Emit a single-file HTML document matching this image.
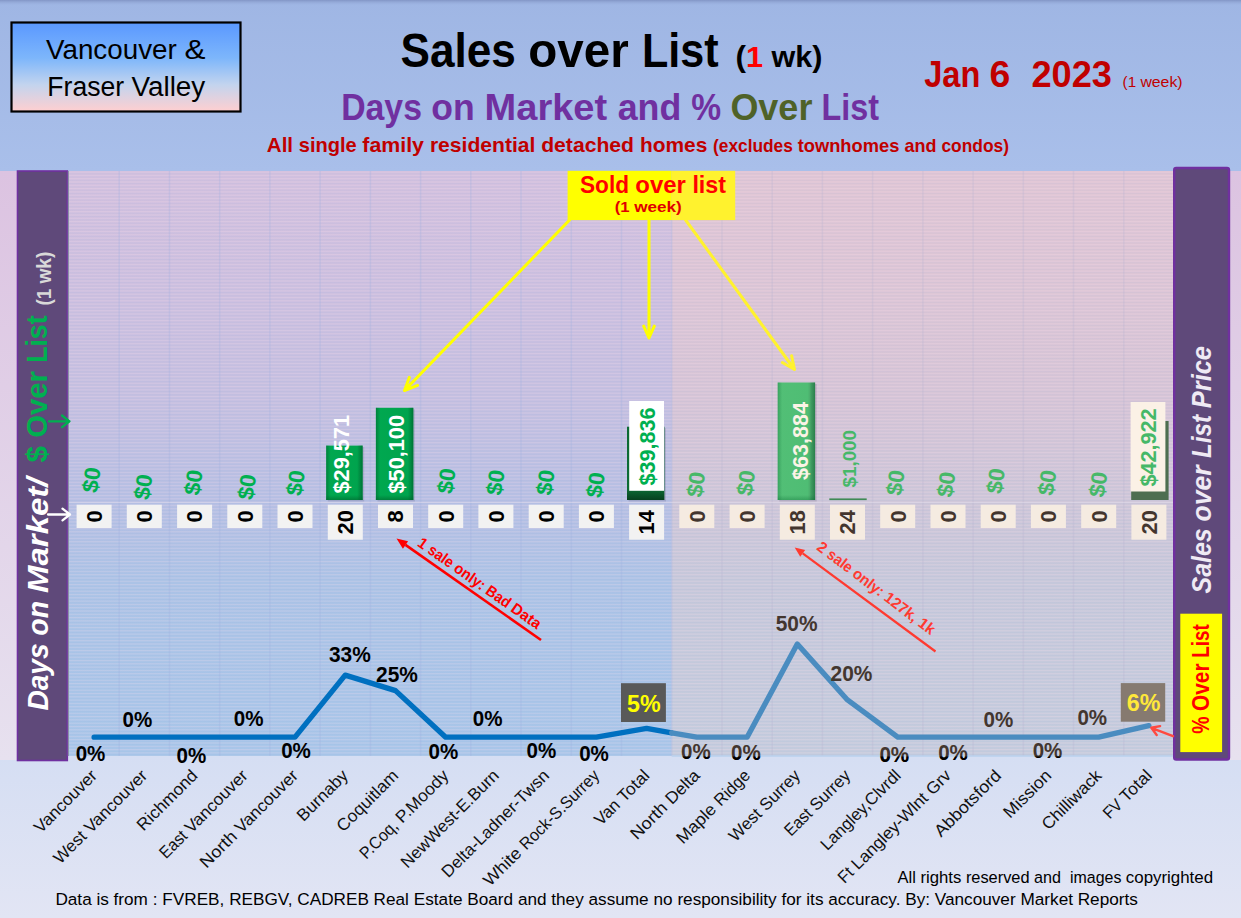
<!DOCTYPE html>
<html lang="en"><head><meta charset="utf-8"><title>Sales over List</title>
<style>html,body{margin:0;padding:0;background:#e2e5f4;overflow:hidden}svg{display:block}text{white-space:pre}</style></head>
<body>
<svg width="1241" height="918" viewBox="0 0 1241 918" font-family="'Liberation Sans', sans-serif">
<defs>
<linearGradient id="gHead" x1="0" y1="0" x2="0" y2="1"><stop offset="0" stop-color="#9fb6e4"/><stop offset="1" stop-color="#a9bfea"/></linearGradient>
<linearGradient id="gFoot" x1="0" y1="0" x2="0" y2="1"><stop offset="0" stop-color="#d5def3"/><stop offset="1" stop-color="#e2e5f4"/></linearGradient>
<linearGradient id="gSide" x1="0" y1="0" x2="0" y2="1"><stop offset="0" stop-color="#dcc3e1"/><stop offset="1" stop-color="#e7e1ef"/></linearGradient>
<linearGradient id="gVan" x1="0" y1="0" x2="0" y2="1"><stop offset="0" stop-color="#d2c0de"/><stop offset="0.22" stop-color="#cbbfdf"/><stop offset="0.39" stop-color="#c4bfe0"/><stop offset="0.56" stop-color="#b6bfe3"/><stop offset="0.70" stop-color="#abc3e6"/><stop offset="1" stop-color="#a8c6e9"/></linearGradient>
<linearGradient id="gFV" x1="0" y1="0" x2="0" y2="1"><stop offset="0" stop-color="#dfc5d4"/><stop offset="0.22" stop-color="#dbc5d5"/><stop offset="0.39" stop-color="#d5c4d6"/><stop offset="0.56" stop-color="#cdc6d8"/><stop offset="0.70" stop-color="#c6c8da"/><stop offset="1" stop-color="#c4ccdd"/></linearGradient>
<linearGradient id="gBox" x1="0" y1="0" x2="0" y2="1"><stop offset="0" stop-color="#5a98ff"/><stop offset="0.4" stop-color="#7db6fb"/><stop offset="0.7" stop-color="#c3d4ee"/><stop offset="1" stop-color="#ffcfd0"/></linearGradient>
<linearGradient id="gBarV" x1="0" y1="0" x2="1" y2="0"><stop offset="0" stop-color="#00a850"/><stop offset="1" stop-color="#00a34d"/></linearGradient>
<linearGradient id="gBarF" x1="0" y1="0" x2="1" y2="0"><stop offset="0" stop-color="#52bf76"/><stop offset="0.8" stop-color="#4fbd74"/><stop offset="0.9" stop-color="#49a468"/><stop offset="1" stop-color="#4a9a64"/></linearGradient>
<linearGradient id="gBarDk" x1="0" y1="0" x2="0" y2="1"><stop offset="0" stop-color="#0b6a33"/><stop offset="0.85" stop-color="#0c6b34"/><stop offset="1" stop-color="#07401f"/></linearGradient>
<linearGradient id="eL" x1="0" y1="0" x2="1" y2="0"><stop offset="0" stop-color="#00602c" stop-opacity="1"/><stop offset="1" stop-color="#00602c" stop-opacity="0"/></linearGradient>
<linearGradient id="eR" x1="0" y1="0" x2="1" y2="0"><stop offset="0" stop-color="#00602c" stop-opacity="0"/><stop offset="1" stop-color="#00602c" stop-opacity="1"/></linearGradient>
<linearGradient id="eB" x1="0" y1="0" x2="0" y2="1"><stop offset="0" stop-color="#00602c" stop-opacity="0"/><stop offset="1" stop-color="#00602c" stop-opacity="1"/></linearGradient>
<linearGradient id="gTop" x1="0" y1="0" x2="0" y2="1"><stop offset="0" stop-color="#7f92c2" stop-opacity="0.9"/><stop offset="1" stop-color="#9fb6e4" stop-opacity="0"/></linearGradient>
<pattern id="hl" width="8" height="3.3" patternUnits="userSpaceOnUse"><rect x="0" y="0" width="8" height="1.1" fill="#ffe0ee" opacity="0.22"/><rect x="0" y="1.6" width="8" height="0.9" fill="#8fa0d8" opacity="0.08"/></pattern>
</defs>
<rect x="0" y="0" width="1241" height="918" fill="url(#gSide)"/>
<rect x="0" y="0" width="1241" height="171" fill="url(#gHead)"/>
<rect x="0" y="0" width="1241" height="6" fill="url(#gTop)"/>
<rect x="0" y="756" width="1241" height="162" fill="url(#gFoot)"/>
<rect x="0" y="171" width="17.5" height="589" fill="url(#gSide)"/>
<rect x="1230" y="171" width="11" height="589" fill="url(#gSide)"/>
<rect x="69.0" y="171.0" width="602.7" height="585.0" fill="url(#gVan)"/>
<rect x="671.7" y="171.0" width="502.3" height="585.0" fill="url(#gFV)"/>
<rect x="69.0" y="171.0" width="1105.0" height="585.0" fill="url(#hl)"/>
<line x1="119.2" y1="171.0" x2="119.2" y2="756.0" stroke="#9fb0e0" stroke-width="1.5" opacity="0.28"/>
<line x1="169.5" y1="171.0" x2="169.5" y2="756.0" stroke="#9fb0e0" stroke-width="1.5" opacity="0.28"/>
<line x1="219.7" y1="171.0" x2="219.7" y2="756.0" stroke="#9fb0e0" stroke-width="1.5" opacity="0.28"/>
<line x1="269.9" y1="171.0" x2="269.9" y2="756.0" stroke="#9fb0e0" stroke-width="1.5" opacity="0.28"/>
<line x1="320.1" y1="171.0" x2="320.1" y2="756.0" stroke="#9fb0e0" stroke-width="1.5" opacity="0.28"/>
<line x1="370.4" y1="171.0" x2="370.4" y2="756.0" stroke="#9fb0e0" stroke-width="1.5" opacity="0.28"/>
<line x1="420.6" y1="171.0" x2="420.6" y2="756.0" stroke="#9fb0e0" stroke-width="1.5" opacity="0.28"/>
<line x1="470.8" y1="171.0" x2="470.8" y2="756.0" stroke="#9fb0e0" stroke-width="1.5" opacity="0.28"/>
<line x1="521.0" y1="171.0" x2="521.0" y2="756.0" stroke="#9fb0e0" stroke-width="1.5" opacity="0.28"/>
<line x1="571.3" y1="171.0" x2="571.3" y2="756.0" stroke="#9fb0e0" stroke-width="1.5" opacity="0.28"/>
<line x1="621.5" y1="171.0" x2="621.5" y2="756.0" stroke="#9fb0e0" stroke-width="1.5" opacity="0.28"/>
<line x1="671.7" y1="171.0" x2="671.7" y2="756.0" stroke="#9fb0e0" stroke-width="1.5" opacity="0.28"/>
<line x1="722.0" y1="171.0" x2="722.0" y2="756.0" stroke="#b9b4d2" stroke-width="1.5" opacity="0.28"/>
<line x1="772.2" y1="171.0" x2="772.2" y2="756.0" stroke="#b9b4d2" stroke-width="1.5" opacity="0.28"/>
<line x1="822.4" y1="171.0" x2="822.4" y2="756.0" stroke="#b9b4d2" stroke-width="1.5" opacity="0.28"/>
<line x1="872.6" y1="171.0" x2="872.6" y2="756.0" stroke="#b9b4d2" stroke-width="1.5" opacity="0.28"/>
<line x1="922.9" y1="171.0" x2="922.9" y2="756.0" stroke="#b9b4d2" stroke-width="1.5" opacity="0.28"/>
<line x1="973.1" y1="171.0" x2="973.1" y2="756.0" stroke="#b9b4d2" stroke-width="1.5" opacity="0.28"/>
<line x1="1023.3" y1="171.0" x2="1023.3" y2="756.0" stroke="#b9b4d2" stroke-width="1.5" opacity="0.28"/>
<line x1="1073.5" y1="171.0" x2="1073.5" y2="756.0" stroke="#b9b4d2" stroke-width="1.5" opacity="0.28"/>
<line x1="1123.8" y1="171.0" x2="1123.8" y2="756.0" stroke="#b9b4d2" stroke-width="1.5" opacity="0.28"/>
<line x1="69.0" y1="502.5" x2="1174.0" y2="502.5" stroke="#e4e0ee" stroke-width="1.2" opacity="0.45"/>
<line x1="671.7" y1="756" x2="1174.0" y2="756" stroke="#b9d0ee" stroke-width="1.5"/>
<rect x="17.5" y="171" width="49.8" height="589.5" fill="#5f497a"/>
<rect x="17.5" y="171" width="49.8" height="589.5" fill="none" stroke="#7030a0" stroke-width="1.6"/>
<line x1="68.4" y1="171" x2="68.4" y2="756" stroke="#8c93a8" stroke-width="1.2"/>
<rect x="1174.2" y="168" width="54.8" height="591.5" rx="2" fill="#5f497a" stroke="#7030a0" stroke-width="2.4"/>
<rect x="1180.3" y="613.7" width="41.8" height="138.4" fill="#ffff00"/>
<text y="0.0" font-size="30.26" fill="#ffffff" font-weight="700" font-style="italic" transform="translate(48.0 710.5) rotate(-90)"><tspan x="0.0" textLength="74.8" lengthAdjust="spacingAndGlyphs">Days </tspan><tspan x="74.8" textLength="42.6" lengthAdjust="spacingAndGlyphs">on </tspan><tspan x="117.5" textLength="115.5" lengthAdjust="spacingAndGlyphs">Market/</tspan></text>
<text y="0.0" font-size="30.26" fill="#00b050" font-weight="700" transform="translate(47.0 462.5) rotate(-90)"><tspan x="0.0" textLength="24.7" lengthAdjust="spacingAndGlyphs">$ </tspan><tspan x="24.7" textLength="75.0" lengthAdjust="spacingAndGlyphs">Over </tspan><tspan x="99.7" textLength="47.3" lengthAdjust="spacingAndGlyphs">List</tspan></text>
<text y="0.0" font-size="20.02" fill="#d9d9d9" font-weight="700" transform="translate(51.0 305.5) rotate(-90)"><tspan x="0.0" textLength="21.9" lengthAdjust="spacingAndGlyphs">(1 </tspan><tspan x="21.9" textLength="32.1" lengthAdjust="spacingAndGlyphs">wk)</tspan></text>
<text y="0.0" font-size="27.32" fill="#efeaf4" font-weight="700" font-style="italic" transform="translate(1211.0 593.5) rotate(-90)"><tspan x="0.0" textLength="72.1" lengthAdjust="spacingAndGlyphs">Sales </tspan><tspan x="72.1" textLength="63.3" lengthAdjust="spacingAndGlyphs">over </tspan><tspan x="135.5" textLength="49.8" lengthAdjust="spacingAndGlyphs">List </tspan><tspan x="185.3" textLength="62.2" lengthAdjust="spacingAndGlyphs">Price</tspan></text>
<text y="0.0" font-size="23.14" fill="#ff0000" font-weight="700" transform="translate(1209.0 733.7) rotate(-90)"><tspan x="0.0" textLength="22.8" lengthAdjust="spacingAndGlyphs">% </tspan><tspan x="22.8" textLength="53.2" lengthAdjust="spacingAndGlyphs">Over </tspan><tspan x="76.0" textLength="33.5" lengthAdjust="spacingAndGlyphs">List</tspan></text>
<path d="M49.0 421.3L69.5 421.3M62.0 427.1L69.5 421.3L62.0 415.5" fill="none" stroke="#00b050" stroke-width="2.3" stroke-linecap="round" stroke-linejoin="round"/>
<path d="M48.0 514.5L70.0 514.5M62.5 520.3L70.0 514.5L62.5 508.7" fill="none" stroke="#ffffff" stroke-width="2.3" stroke-linecap="round" stroke-linejoin="round"/>
<rect x="327.8" y="447.1" width="36.4" height="54.4" fill="#3c3050" opacity="0.16"/>
<rect x="326.2" y="445.6" width="36.4" height="54.4" fill="url(#gBarV)"/>
<rect x="326.2" y="445.6" width="4.5" height="54.4" fill="url(#eL)" opacity="0.55"/>
<rect x="357.1" y="445.6" width="5.5" height="54.4" fill="url(#eR)" opacity="0.7000000000000001"/>
<rect x="326.2" y="495.0" width="36.4" height="5" fill="url(#eB)" opacity="0.55"/>
<rect x="377.5" y="409.3" width="37.4" height="92.2" fill="#3c3050" opacity="0.16"/>
<rect x="375.9" y="407.8" width="37.4" height="92.2" fill="url(#gBarV)"/>
<rect x="375.9" y="407.8" width="4.5" height="92.2" fill="url(#eL)" opacity="0.55"/>
<rect x="407.8" y="407.8" width="5.5" height="92.2" fill="url(#eR)" opacity="0.7000000000000001"/>
<rect x="375.9" y="495.0" width="37.4" height="5" fill="url(#eB)" opacity="0.55"/>
<rect x="628.6" y="428.2" width="37.4" height="73.3" fill="#3c3050" opacity="0.16"/>
<rect x="627.0" y="426.7" width="37.4" height="73.3" fill="url(#gBarDk)"/>
<rect x="779.3" y="384.0" width="37.4" height="117.5" fill="#3c3050" opacity="0.16"/>
<rect x="777.7" y="382.5" width="37.4" height="117.5" fill="url(#gBarF)"/>
<rect x="777.7" y="382.5" width="4.5" height="117.5" fill="url(#eL)" opacity="0.3"/>
<rect x="809.6" y="382.5" width="5.5" height="117.5" fill="url(#eR)" opacity="0.44999999999999996"/>
<rect x="777.7" y="495.0" width="37.4" height="5" fill="url(#eB)" opacity="0.3"/>
<rect x="829.3" y="498.4" width="37.4" height="1.7" fill="#3f8a55"/>
<rect x="1131.2" y="421.0" width="37.4" height="79.0" fill="#4e6e50"/>
<rect x="629.2" y="401" width="34.8" height="89.8" fill="#ffffff"/>
<rect x="1130.6" y="402" width="34.8" height="89.5" fill="#fbf1e6"/>
<text x="0.0" y="0.0" font-size="21.89" fill="#ffffff" font-weight="700" textLength="78.5" lengthAdjust="spacingAndGlyphs" transform="translate(349.4 493.5) rotate(-90)">$29,571</text>
<text x="0.0" y="0.0" font-size="21.89" fill="#ffffff" font-weight="700" textLength="78.5" lengthAdjust="spacingAndGlyphs" transform="translate(403.6 493.5) rotate(-90)">$50,100</text>
<text x="0.0" y="0.0" font-size="21.36" fill="#00b050" font-weight="700" textLength="78.0" lengthAdjust="spacingAndGlyphs" transform="translate(654.5 485.5) rotate(-90)">$39,836</text>
<text x="0.0" y="0.0" font-size="21.36" fill="#fbf3e6" font-weight="700" textLength="78.0" lengthAdjust="spacingAndGlyphs" transform="translate(807.5 480.0) rotate(-90)">$63,884</text>
<text x="0.0" y="0.0" font-size="18.07" fill="#46b868" font-weight="700" textLength="57.5" lengthAdjust="spacingAndGlyphs" transform="translate(855.6 487.5) rotate(-90)">$1,000</text>
<text x="0.0" y="0.0" font-size="21.36" fill="#46b868" font-weight="700" textLength="78.0" lengthAdjust="spacingAndGlyphs" transform="translate(1156.0 486.5) rotate(-90)">$42,922</text>
<g transform="translate(91.5 480.0) rotate(-82)">
<text x="-12.7" y="7.6" font-size="22.25" fill="#00b050" font-weight="700" textLength="25.3" lengthAdjust="spacingAndGlyphs">$0</text>
</g>
<g transform="translate(143.3 487.0) rotate(-82)">
<text x="-12.7" y="7.6" font-size="22.25" fill="#00b050" font-weight="700" textLength="25.3" lengthAdjust="spacingAndGlyphs">$0</text>
</g>
<g transform="translate(193.4 482.5) rotate(-82)">
<text x="-12.7" y="7.6" font-size="22.25" fill="#00b050" font-weight="700" textLength="25.3" lengthAdjust="spacingAndGlyphs">$0</text>
</g>
<g transform="translate(247.0 487.0) rotate(-82)">
<text x="-12.7" y="7.6" font-size="22.25" fill="#00b050" font-weight="700" textLength="25.3" lengthAdjust="spacingAndGlyphs">$0</text>
</g>
<g transform="translate(295.6 483.0) rotate(-82)">
<text x="-12.7" y="7.6" font-size="22.25" fill="#00b050" font-weight="700" textLength="25.3" lengthAdjust="spacingAndGlyphs">$0</text>
</g>
<g transform="translate(446.4 481.0) rotate(-82)">
<text x="-12.7" y="7.6" font-size="22.25" fill="#00b050" font-weight="700" textLength="25.3" lengthAdjust="spacingAndGlyphs">$0</text>
</g>
<g transform="translate(495.4 482.5) rotate(-82)">
<text x="-12.7" y="7.6" font-size="22.25" fill="#00b050" font-weight="700" textLength="25.3" lengthAdjust="spacingAndGlyphs">$0</text>
</g>
<g transform="translate(545.5 482.5) rotate(-82)">
<text x="-12.7" y="7.6" font-size="22.25" fill="#00b050" font-weight="700" textLength="25.3" lengthAdjust="spacingAndGlyphs">$0</text>
</g>
<g transform="translate(595.6 485.0) rotate(-82)">
<text x="-12.7" y="7.6" font-size="22.25" fill="#00b050" font-weight="700" textLength="25.3" lengthAdjust="spacingAndGlyphs">$0</text>
</g>
<g transform="translate(696.0 484.5) rotate(-82)">
<text x="-12.7" y="7.6" font-size="22.25" fill="#46b868" font-weight="700" textLength="25.3" lengthAdjust="spacingAndGlyphs">$0</text>
</g>
<g transform="translate(746.0 483.0) rotate(-82)">
<text x="-12.7" y="7.6" font-size="22.25" fill="#46b868" font-weight="700" textLength="25.3" lengthAdjust="spacingAndGlyphs">$0</text>
</g>
<g transform="translate(895.5 482.7) rotate(-82)">
<text x="-12.7" y="7.6" font-size="22.25" fill="#46b868" font-weight="700" textLength="25.3" lengthAdjust="spacingAndGlyphs">$0</text>
</g>
<g transform="translate(946.2 484.3) rotate(-82)">
<text x="-12.7" y="7.6" font-size="22.25" fill="#46b868" font-weight="700" textLength="25.3" lengthAdjust="spacingAndGlyphs">$0</text>
</g>
<g transform="translate(995.8 480.8) rotate(-82)">
<text x="-12.7" y="7.6" font-size="22.25" fill="#46b868" font-weight="700" textLength="25.3" lengthAdjust="spacingAndGlyphs">$0</text>
</g>
<g transform="translate(1047.3 482.7) rotate(-82)">
<text x="-12.7" y="7.6" font-size="22.25" fill="#46b868" font-weight="700" textLength="25.3" lengthAdjust="spacingAndGlyphs">$0</text>
</g>
<g transform="translate(1098.2 484.3) rotate(-82)">
<text x="-12.7" y="7.6" font-size="22.25" fill="#46b868" font-weight="700" textLength="25.3" lengthAdjust="spacingAndGlyphs">$0</text>
</g>
<rect x="76.6" y="504.7" width="35" height="23.3" fill="#f2f2f2"/>
<text x="0.0" y="0.0" font-size="21.36" fill="#000000" font-weight="700" textLength="12.2" lengthAdjust="spacingAndGlyphs" transform="translate(101.9 522.4) rotate(-90)">0</text>
<rect x="126.8" y="504.7" width="35" height="23.3" fill="#f2f2f2"/>
<text x="0.0" y="0.0" font-size="21.36" fill="#000000" font-weight="700" textLength="12.2" lengthAdjust="spacingAndGlyphs" transform="translate(152.1 522.4) rotate(-90)">0</text>
<rect x="177.1" y="504.7" width="35" height="23.3" fill="#f2f2f2"/>
<text x="0.0" y="0.0" font-size="21.36" fill="#000000" font-weight="700" textLength="12.2" lengthAdjust="spacingAndGlyphs" transform="translate(202.4 522.4) rotate(-90)">0</text>
<rect x="227.3" y="504.7" width="35" height="23.3" fill="#f2f2f2"/>
<text x="0.0" y="0.0" font-size="21.36" fill="#000000" font-weight="700" textLength="12.2" lengthAdjust="spacingAndGlyphs" transform="translate(252.6 522.4) rotate(-90)">0</text>
<rect x="277.5" y="504.7" width="35" height="23.3" fill="#f2f2f2"/>
<text x="0.0" y="0.0" font-size="21.36" fill="#000000" font-weight="700" textLength="12.2" lengthAdjust="spacingAndGlyphs" transform="translate(302.8 522.4) rotate(-90)">0</text>
<rect x="327.8" y="504.7" width="35" height="35" fill="#f2f2f2"/>
<text x="0.0" y="0.0" font-size="21.36" fill="#000000" font-weight="700" textLength="24.3" lengthAdjust="spacingAndGlyphs" transform="translate(353.1 534.4) rotate(-90)">20</text>
<rect x="378.0" y="504.7" width="35" height="23.3" fill="#f2f2f2"/>
<text x="0.0" y="0.0" font-size="21.36" fill="#000000" font-weight="700" textLength="12.2" lengthAdjust="spacingAndGlyphs" transform="translate(403.3 522.4) rotate(-90)">8</text>
<rect x="428.2" y="504.7" width="35" height="23.3" fill="#f2f2f2"/>
<text x="0.0" y="0.0" font-size="21.36" fill="#000000" font-weight="700" textLength="12.2" lengthAdjust="spacingAndGlyphs" transform="translate(453.5 522.4) rotate(-90)">0</text>
<rect x="478.4" y="504.7" width="35" height="23.3" fill="#f2f2f2"/>
<text x="0.0" y="0.0" font-size="21.36" fill="#000000" font-weight="700" textLength="12.2" lengthAdjust="spacingAndGlyphs" transform="translate(503.7 522.4) rotate(-90)">0</text>
<rect x="528.7" y="504.7" width="35" height="23.3" fill="#f2f2f2"/>
<text x="0.0" y="0.0" font-size="21.36" fill="#000000" font-weight="700" textLength="12.2" lengthAdjust="spacingAndGlyphs" transform="translate(554.0 522.4) rotate(-90)">0</text>
<rect x="578.9" y="504.7" width="35" height="23.3" fill="#f2f2f2"/>
<text x="0.0" y="0.0" font-size="21.36" fill="#000000" font-weight="700" textLength="12.2" lengthAdjust="spacingAndGlyphs" transform="translate(604.2 522.4) rotate(-90)">0</text>
<rect x="629.1" y="504.7" width="35" height="35" fill="#f2f2f2"/>
<text x="0.0" y="0.0" font-size="21.36" fill="#000000" font-weight="700" textLength="24.3" lengthAdjust="spacingAndGlyphs" transform="translate(654.4 534.4) rotate(-90)">14</text>
<rect x="679.3" y="504.7" width="35" height="23.3" fill="#f5ebe1"/>
<text x="0.0" y="0.0" font-size="21.36" fill="#43352e" font-weight="700" textLength="12.2" lengthAdjust="spacingAndGlyphs" transform="translate(704.6 522.4) rotate(-90)">0</text>
<rect x="729.6" y="504.7" width="35" height="23.3" fill="#f5ebe1"/>
<text x="0.0" y="0.0" font-size="21.36" fill="#43352e" font-weight="700" textLength="12.2" lengthAdjust="spacingAndGlyphs" transform="translate(754.9 522.4) rotate(-90)">0</text>
<rect x="779.8" y="504.7" width="35" height="35" fill="#f5ebe1"/>
<text x="0.0" y="0.0" font-size="21.36" fill="#43352e" font-weight="700" textLength="24.3" lengthAdjust="spacingAndGlyphs" transform="translate(805.1 534.4) rotate(-90)">18</text>
<rect x="830.0" y="504.7" width="35" height="35" fill="#f5ebe1"/>
<text x="0.0" y="0.0" font-size="21.36" fill="#43352e" font-weight="700" textLength="24.3" lengthAdjust="spacingAndGlyphs" transform="translate(855.3 534.4) rotate(-90)">24</text>
<rect x="880.2" y="504.7" width="35" height="23.3" fill="#f5ebe1"/>
<text x="0.0" y="0.0" font-size="21.36" fill="#43352e" font-weight="700" textLength="12.2" lengthAdjust="spacingAndGlyphs" transform="translate(905.5 522.4) rotate(-90)">0</text>
<rect x="930.5" y="504.7" width="35" height="23.3" fill="#f5ebe1"/>
<text x="0.0" y="0.0" font-size="21.36" fill="#43352e" font-weight="700" textLength="12.2" lengthAdjust="spacingAndGlyphs" transform="translate(955.8 522.4) rotate(-90)">0</text>
<rect x="980.7" y="504.7" width="35" height="23.3" fill="#f5ebe1"/>
<text x="0.0" y="0.0" font-size="21.36" fill="#43352e" font-weight="700" textLength="12.2" lengthAdjust="spacingAndGlyphs" transform="translate(1006.0 522.4) rotate(-90)">0</text>
<rect x="1030.9" y="504.7" width="35" height="23.3" fill="#f5ebe1"/>
<text x="0.0" y="0.0" font-size="21.36" fill="#43352e" font-weight="700" textLength="12.2" lengthAdjust="spacingAndGlyphs" transform="translate(1056.2 522.4) rotate(-90)">0</text>
<rect x="1081.2" y="504.7" width="35" height="23.3" fill="#f5ebe1"/>
<text x="0.0" y="0.0" font-size="21.36" fill="#43352e" font-weight="700" textLength="12.2" lengthAdjust="spacingAndGlyphs" transform="translate(1106.5 522.4) rotate(-90)">0</text>
<rect x="1131.4" y="504.7" width="35" height="35" fill="#f5ebe1"/>
<text x="0.0" y="0.0" font-size="21.36" fill="#43352e" font-weight="700" textLength="24.3" lengthAdjust="spacingAndGlyphs" transform="translate(1156.7 534.4) rotate(-90)">20</text>
<polyline points="94.1,737.2 144.3,737.2 194.6,737.2 244.8,737.2 295.0,737.2 345.2,675.1 395.5,690.6 445.7,737.2 495.9,737.2 546.2,737.2 596.4,737.2 646.6,728.4 671.7,732.8" fill="none" stroke="#0070c0" stroke-width="5.3" stroke-linejoin="round" stroke-linecap="round"/>
<polyline points="671.7,732.8 696.8,737.2 747.1,737.2 797.3,644.1 847.5,699.9 897.8,737.2 948.0,737.2 998.2,737.2 1048.4,737.2 1098.7,737.2 1148.9,725.6" fill="none" stroke="#4a8cc0" stroke-width="5.3" stroke-linejoin="round" stroke-linecap="round"/>
<text x="75.7" y="760.5" font-size="21.36" fill="#000000" font-weight="700" textLength="29.7" lengthAdjust="spacingAndGlyphs">0%</text>
<text x="122.6" y="727.2" font-size="21.36" fill="#000000" font-weight="700" textLength="29.7" lengthAdjust="spacingAndGlyphs">0%</text>
<text x="176.5" y="763.4" font-size="21.36" fill="#000000" font-weight="700" textLength="29.7" lengthAdjust="spacingAndGlyphs">0%</text>
<text x="233.8" y="726.2" font-size="21.36" fill="#000000" font-weight="700" textLength="29.7" lengthAdjust="spacingAndGlyphs">0%</text>
<text x="281.2" y="758.1" font-size="21.36" fill="#000000" font-weight="700" textLength="29.7" lengthAdjust="spacingAndGlyphs">0%</text>
<text x="329.0" y="662.3" font-size="21.36" fill="#000000" font-weight="700" textLength="41.8" lengthAdjust="spacingAndGlyphs">33%</text>
<text x="376.1" y="681.5" font-size="21.36" fill="#000000" font-weight="700" textLength="41.8" lengthAdjust="spacingAndGlyphs">25%</text>
<text x="428.6" y="759.3" font-size="21.36" fill="#000000" font-weight="700" textLength="29.7" lengthAdjust="spacingAndGlyphs">0%</text>
<text x="472.8" y="725.5" font-size="21.36" fill="#000000" font-weight="700" textLength="29.7" lengthAdjust="spacingAndGlyphs">0%</text>
<text x="526.5" y="758.1" font-size="21.36" fill="#000000" font-weight="700" textLength="29.7" lengthAdjust="spacingAndGlyphs">0%</text>
<text x="579.2" y="761.3" font-size="21.36" fill="#000000" font-weight="700" textLength="29.7" lengthAdjust="spacingAndGlyphs">0%</text>
<text x="681.1" y="759.0" font-size="21.36" fill="#43362f" font-weight="700" textLength="29.7" lengthAdjust="spacingAndGlyphs">0%</text>
<text x="731.0" y="760.0" font-size="21.36" fill="#43362f" font-weight="700" textLength="29.7" lengthAdjust="spacingAndGlyphs">0%</text>
<text x="775.7" y="631.4" font-size="21.36" fill="#43362f" font-weight="700" textLength="41.8" lengthAdjust="spacingAndGlyphs">50%</text>
<text x="830.6" y="681.0" font-size="21.36" fill="#43362f" font-weight="700" textLength="41.8" lengthAdjust="spacingAndGlyphs">20%</text>
<text x="879.4" y="762.0" font-size="21.36" fill="#43362f" font-weight="700" textLength="29.7" lengthAdjust="spacingAndGlyphs">0%</text>
<text x="938.2" y="760.0" font-size="21.36" fill="#43362f" font-weight="700" textLength="29.7" lengthAdjust="spacingAndGlyphs">0%</text>
<text x="983.6" y="727.0" font-size="21.36" fill="#43362f" font-weight="700" textLength="29.7" lengthAdjust="spacingAndGlyphs">0%</text>
<text x="1032.7" y="758.3" font-size="21.36" fill="#43362f" font-weight="700" textLength="29.7" lengthAdjust="spacingAndGlyphs">0%</text>
<text x="1077.4" y="724.9" font-size="21.36" fill="#43362f" font-weight="700" textLength="29.7" lengthAdjust="spacingAndGlyphs">0%</text>
<clipPath id="below"><rect x="671.7272727272727" y="756.6" width="600" height="20"/></clipPath>
<g clip-path="url(#below)">
<text x="681.1" y="759.0" font-size="21.36" fill="#000" font-weight="700" textLength="29.7" lengthAdjust="spacingAndGlyphs">0%</text>
<text x="731.0" y="760.0" font-size="21.36" fill="#000" font-weight="700" textLength="29.7" lengthAdjust="spacingAndGlyphs">0%</text>
<text x="879.4" y="762.0" font-size="21.36" fill="#000" font-weight="700" textLength="29.7" lengthAdjust="spacingAndGlyphs">0%</text>
<text x="938.2" y="760.0" font-size="21.36" fill="#000" font-weight="700" textLength="29.7" lengthAdjust="spacingAndGlyphs">0%</text>
<text x="1032.7" y="758.3" font-size="21.36" fill="#000" font-weight="700" textLength="29.7" lengthAdjust="spacingAndGlyphs">0%</text>
</g>
<rect x="621" y="683.2" width="44.9" height="38.8" fill="#595959"/>
<text x="627.0" y="711.6" font-size="24.56" fill="#ffff00" font-weight="700" textLength="33.6" lengthAdjust="spacingAndGlyphs">5%</text>
<rect x="1120.8" y="683.1" width="44.4" height="38.6" fill="#867a70"/>
<text x="1126.8" y="711.4" font-size="24.56" fill="#ffe83a" font-weight="700" textLength="33.6" lengthAdjust="spacingAndGlyphs">6%</text>
<rect x="567.6" y="170.8" width="104.1" height="49.3" fill="#ffff00"/>
<rect x="671.7" y="170.8" width="63.5" height="49.3" fill="#fff22e"/>
<text y="193.0" font-size="24.30" fill="#ff0000" font-weight="700"><tspan x="580.0" textLength="55.3" lengthAdjust="spacingAndGlyphs">Sold </tspan><tspan x="635.3" textLength="57.1" lengthAdjust="spacingAndGlyphs">over </tspan><tspan x="692.4" textLength="33.6" lengthAdjust="spacingAndGlyphs">list</tspan></text>
<text y="212.3" font-size="15.40" fill="#e00000" font-weight="700"><tspan x="614.8" textLength="19.5" lengthAdjust="spacingAndGlyphs">(1 </tspan><tspan x="634.3" textLength="47.5" lengthAdjust="spacingAndGlyphs">week)</tspan></text>
<path d="M569.6 220.0L404.5 390.5M409.3 377.4L404.5 390.5L417.5 385.3" fill="none" stroke="#ffff00" stroke-width="3.0" stroke-linecap="round" stroke-linejoin="round"/>
<path d="M649.0 220.0L649.0 338.0M643.7 326.1L649.0 338.0L654.3 326.1" fill="none" stroke="#ffff00" stroke-width="3.0" stroke-linecap="round" stroke-linejoin="round"/>
<path d="M685.6 220.0L794.5 369.5M782.4 362.5L794.5 369.5L791.6 355.8" fill="none" stroke="#fff22e" stroke-width="3.0" stroke-linecap="round" stroke-linejoin="round"/>
<line x1="541.0" y1="640.0" x2="405.5" y2="544.9" stroke="#ff0000" stroke-width="2.6"/>
<polygon points="396.5,538.6 408.1,541.2 402.9,548.7" fill="#ff0000"/>
<text y="0.0" font-size="15.40" fill="#ff0000" font-weight="700" transform="translate(416.6 545.2) rotate(35.1)"><tspan x="0.0" textLength="12.4" lengthAdjust="spacingAndGlyphs">1 </tspan><tspan x="12.4" textLength="31.7" lengthAdjust="spacingAndGlyphs">sale </tspan><tspan x="44.2" textLength="39.0" lengthAdjust="spacingAndGlyphs">only: </tspan><tspan x="83.1" textLength="30.8" lengthAdjust="spacingAndGlyphs">Bad </tspan><tspan x="114.0" textLength="33.0" lengthAdjust="spacingAndGlyphs">Data</tspan></text>
<line x1="935.5" y1="651.5" x2="802.7" y2="553.4" stroke="#ff3a30" stroke-width="2.2"/>
<polygon points="794.7,547.5 805.2,550.1 800.2,556.8" fill="#ff3a30"/>
<text y="0.0" font-size="15.40" fill="#ff3a30" font-weight="700" transform="translate(815.8 549.0) rotate(37.0)"><tspan x="0.0" textLength="12.6" lengthAdjust="spacingAndGlyphs">2 </tspan><tspan x="12.6" textLength="32.0" lengthAdjust="spacingAndGlyphs">sale </tspan><tspan x="44.6" textLength="39.4" lengthAdjust="spacingAndGlyphs">only: </tspan><tspan x="84.0" textLength="42.6" lengthAdjust="spacingAndGlyphs">127k, </tspan><tspan x="126.6" textLength="16.9" lengthAdjust="spacingAndGlyphs">1k</tspan></text>
<path d="M1173.0 736.2L1151.3 727.8M1160.1 726.1L1151.3 727.8L1156.7 735.0" fill="none" stroke="#ff4a40" stroke-width="2.4" stroke-linecap="round" stroke-linejoin="round"/>
<text x="-81.2" y="0.0" font-size="16.91" fill="#111" textLength="81.2" lengthAdjust="spacingAndGlyphs" transform="translate(98.1 776.6) rotate(-45)">Vancouver</text>
<text y="0.0" font-size="16.91" fill="#111" transform="translate(148.3 776.6) rotate(-45)"><tspan x="-124.7" textLength="43.5" lengthAdjust="spacingAndGlyphs">West </tspan><tspan x="-81.2" textLength="81.2" lengthAdjust="spacingAndGlyphs">Vancouver</tspan></text>
<text x="-77.9" y="0.0" font-size="16.91" fill="#111" textLength="77.9" lengthAdjust="spacingAndGlyphs" transform="translate(198.6 776.6) rotate(-45)">Richmond</text>
<text y="0.0" font-size="16.91" fill="#111" transform="translate(248.8 776.6) rotate(-45)"><tspan x="-117.1" textLength="35.9" lengthAdjust="spacingAndGlyphs">East </tspan><tspan x="-81.2" textLength="81.2" lengthAdjust="spacingAndGlyphs">Vancouver</tspan></text>
<text y="0.0" font-size="16.91" fill="#111" transform="translate(299.0 776.6) rotate(-45)"><tspan x="-130.7" textLength="49.6" lengthAdjust="spacingAndGlyphs">North </tspan><tspan x="-81.2" textLength="81.2" lengthAdjust="spacingAndGlyphs">Vancouver</tspan></text>
<text x="-64.5" y="0.0" font-size="16.91" fill="#111" textLength="64.5" lengthAdjust="spacingAndGlyphs" transform="translate(349.2 776.6) rotate(-45)">Burnaby</text>
<text x="-79.5" y="0.0" font-size="16.91" fill="#111" textLength="79.5" lengthAdjust="spacingAndGlyphs" transform="translate(399.5 776.6) rotate(-45)">Coquitlam</text>
<text y="0.0" font-size="16.91" fill="#111" transform="translate(449.7 776.6) rotate(-45)"><tspan x="-118.1" textLength="51.0" lengthAdjust="spacingAndGlyphs">P.Coq, </tspan><tspan x="-67.1" textLength="67.1" lengthAdjust="spacingAndGlyphs">P.Moody</tspan></text>
<text x="-130.7" y="0.0" font-size="16.91" fill="#111" textLength="130.7" lengthAdjust="spacingAndGlyphs" transform="translate(499.9 776.6) rotate(-45)">NewWest-E.Burn</text>
<text x="-144.2" y="0.0" font-size="16.91" fill="#111" textLength="144.2" lengthAdjust="spacingAndGlyphs" transform="translate(550.2 776.6) rotate(-45)">Delta-Ladner-Twsn</text>
<text y="0.0" font-size="16.91" fill="#111" transform="translate(600.4 776.6) rotate(-45)"><tspan x="-156.1" textLength="51.2" lengthAdjust="spacingAndGlyphs">White </tspan><tspan x="-104.9" textLength="104.9" lengthAdjust="spacingAndGlyphs">Rock-S.Surrey</tspan></text>
<text y="0.0" font-size="16.91" fill="#111" transform="translate(650.6 776.6) rotate(-45)"><tspan x="-70.3" textLength="33.1" lengthAdjust="spacingAndGlyphs">Van </tspan><tspan x="-37.2" textLength="37.2" lengthAdjust="spacingAndGlyphs">Total</tspan></text>
<text y="0.0" font-size="16.91" fill="#111" transform="translate(700.8 776.6) rotate(-45)"><tspan x="-90.3" textLength="49.6" lengthAdjust="spacingAndGlyphs">North </tspan><tspan x="-40.7" textLength="40.7" lengthAdjust="spacingAndGlyphs">Delta</tspan></text>
<text y="0.0" font-size="16.91" fill="#111" transform="translate(751.1 776.6) rotate(-45)"><tspan x="-96.3" textLength="53.4" lengthAdjust="spacingAndGlyphs">Maple </tspan><tspan x="-42.9" textLength="42.9" lengthAdjust="spacingAndGlyphs">Ridge</tspan></text>
<text y="0.0" font-size="16.91" fill="#111" transform="translate(801.3 776.6) rotate(-45)"><tspan x="-93.2" textLength="43.5" lengthAdjust="spacingAndGlyphs">West </tspan><tspan x="-49.6" textLength="49.6" lengthAdjust="spacingAndGlyphs">Surrey</tspan></text>
<text y="0.0" font-size="16.91" fill="#111" transform="translate(851.5 776.6) rotate(-45)"><tspan x="-85.6" textLength="35.9" lengthAdjust="spacingAndGlyphs">East </tspan><tspan x="-49.6" textLength="49.6" lengthAdjust="spacingAndGlyphs">Surrey</tspan></text>
<text x="-105.5" y="0.0" font-size="16.91" fill="#111" textLength="105.5" lengthAdjust="spacingAndGlyphs" transform="translate(901.8 776.6) rotate(-45)">Langley,Clvrdl</text>
<text y="0.0" font-size="16.91" fill="#111" transform="translate(952.0 776.6) rotate(-45)"><tspan x="-152.2" textLength="19.4" lengthAdjust="spacingAndGlyphs">Ft </tspan><tspan x="-132.8" textLength="105.4" lengthAdjust="spacingAndGlyphs">Langley-Wlnt </tspan><tspan x="-27.4" textLength="27.4" lengthAdjust="spacingAndGlyphs">Grv</tspan></text>
<text x="-86.4" y="0.0" font-size="16.91" fill="#111" textLength="86.4" lengthAdjust="spacingAndGlyphs" transform="translate(1002.2 776.6) rotate(-45)">Abbotsford</text>
<text x="-59.8" y="0.0" font-size="16.91" fill="#111" textLength="59.8" lengthAdjust="spacingAndGlyphs" transform="translate(1052.4 776.6) rotate(-45)">Mission</text>
<text x="-76.7" y="0.0" font-size="16.91" fill="#111" textLength="76.7" lengthAdjust="spacingAndGlyphs" transform="translate(1102.7 776.6) rotate(-45)">Chilliwack</text>
<text y="0.0" font-size="16.91" fill="#111" transform="translate(1152.9 776.6) rotate(-45)"><tspan x="-61.0" textLength="23.8" lengthAdjust="spacingAndGlyphs">FV </tspan><tspan x="-37.2" textLength="37.2" lengthAdjust="spacingAndGlyphs">Total</tspan></text>
<rect x="11.5" y="22.5" width="229" height="89" fill="url(#gBox)" stroke="#000" stroke-width="2.2"/>
<text y="58.7" font-size="27.59" fill="#000"><tspan x="46.0" textLength="138.5" lengthAdjust="spacingAndGlyphs">Vancouver </tspan><tspan x="184.5" textLength="21.0" lengthAdjust="spacingAndGlyphs">&amp;</tspan></text>
<text y="96.0" font-size="27.59" fill="#000"><tspan x="47.3" textLength="84.2" lengthAdjust="spacingAndGlyphs">Fraser </tspan><tspan x="131.5" textLength="73.8" lengthAdjust="spacingAndGlyphs">Valley</tspan></text>
<text y="67.4" font-size="48.51" fill="#000" font-weight="700"><tspan x="400.5" textLength="127.7" lengthAdjust="spacingAndGlyphs">Sales </tspan><tspan x="528.2" textLength="113.7" lengthAdjust="spacingAndGlyphs">over </tspan><tspan x="641.9" textLength="76.6" lengthAdjust="spacingAndGlyphs">List</tspan></text>
<text x="735.5" y="67.4" font-size="29.99" fill="#000" font-weight="700" textLength="10.5" lengthAdjust="spacingAndGlyphs">(</text>
<text x="746.0" y="67.4" font-size="29.99" fill="#ff0000" font-weight="700" textLength="17.1" lengthAdjust="spacingAndGlyphs">1</text>
<text x="763.1" y="67.4" font-size="29.99" fill="#000" font-weight="700" textLength="59.4" lengthAdjust="spacingAndGlyphs"> wk)</text>
<text y="119.6" font-size="36.49" fill="#7030a0" font-weight="700"><tspan x="341.2" textLength="90.1" lengthAdjust="spacingAndGlyphs">Days </tspan><tspan x="431.3" textLength="53.3" lengthAdjust="spacingAndGlyphs">on </tspan><tspan x="484.6" textLength="133.1" lengthAdjust="spacingAndGlyphs">Market </tspan><tspan x="617.7" textLength="73.5" lengthAdjust="spacingAndGlyphs">and </tspan><tspan x="691.2" textLength="29.9" lengthAdjust="spacingAndGlyphs">%</tspan></text>
<text x="730.4" y="119.6" font-size="36.49" fill="#4f6228" font-weight="700" textLength="82.0" lengthAdjust="spacingAndGlyphs">Over</text>
<text x="821.6" y="119.6" font-size="36.49" fill="#7030a0" font-weight="700" textLength="57.5" lengthAdjust="spacingAndGlyphs">List</text>
<text y="151.8" font-size="20.20" fill="#c00000" font-weight="700"><tspan x="266.8" textLength="32.0" lengthAdjust="spacingAndGlyphs">All </tspan><tspan x="298.8" textLength="63.5" lengthAdjust="spacingAndGlyphs">single </tspan><tspan x="362.3" textLength="67.6" lengthAdjust="spacingAndGlyphs">family </tspan><tspan x="429.9" textLength="111.4" lengthAdjust="spacingAndGlyphs">residential </tspan><tspan x="541.2" textLength="98.7" lengthAdjust="spacingAndGlyphs">detached </tspan><tspan x="639.9" textLength="67.4" lengthAdjust="spacingAndGlyphs">homes</tspan></text>
<text y="151.8" font-size="17.80" fill="#c00000" font-weight="700"><tspan x="713.0" textLength="84.7" lengthAdjust="spacingAndGlyphs">(excludes </tspan><tspan x="797.7" textLength="106.7" lengthAdjust="spacingAndGlyphs">townhomes </tspan><tspan x="904.4" textLength="37.0" lengthAdjust="spacingAndGlyphs">and </tspan><tspan x="941.4" textLength="67.6" lengthAdjust="spacingAndGlyphs">condos)</tspan></text>
<text y="86.7" font-size="36.22" fill="#c00000" font-weight="700"><tspan x="924.2" textLength="65.2" lengthAdjust="spacingAndGlyphs">Jan </tspan><tspan x="989.4" textLength="20.8" lengthAdjust="spacingAndGlyphs">6</tspan></text>
<text x="1031.4" y="86.7" font-size="36.22" fill="#c00000" font-weight="700" textLength="80.5" lengthAdjust="spacingAndGlyphs">2023</text>
<text y="86.7" font-size="14.24" fill="#c00000"><tspan x="1122.6" textLength="17.8" lengthAdjust="spacingAndGlyphs">(1 </tspan><tspan x="1140.4" textLength="42.2" lengthAdjust="spacingAndGlyphs">week)</tspan></text>
<text y="882.9" font-size="16.11" fill="#000"><tspan x="897.5" textLength="22.9" lengthAdjust="spacingAndGlyphs">All </tspan><tspan x="920.4" textLength="45.5" lengthAdjust="spacingAndGlyphs">rights </tspan><tspan x="965.9" textLength="68.2" lengthAdjust="spacingAndGlyphs">reserved </tspan><tspan x="1034.1" textLength="35.9" lengthAdjust="spacingAndGlyphs">and  </tspan><tspan x="1070.0" textLength="55.8" lengthAdjust="spacingAndGlyphs">images </tspan><tspan x="1125.8" textLength="87.3" lengthAdjust="spacingAndGlyphs">copyrighted</tspan></text>
<text y="904.8" font-size="16.80" fill="#000"><tspan x="55.4" textLength="41.1" lengthAdjust="spacingAndGlyphs">Data </tspan><tspan x="96.5" textLength="17.2" lengthAdjust="spacingAndGlyphs">is </tspan><tspan x="113.6" textLength="39.1" lengthAdjust="spacingAndGlyphs">from </tspan><tspan x="152.8" textLength="9.5" lengthAdjust="spacingAndGlyphs">: </tspan><tspan x="162.3" textLength="66.8" lengthAdjust="spacingAndGlyphs">FVREB, </tspan><tspan x="229.2" textLength="68.1" lengthAdjust="spacingAndGlyphs">REBGV, </tspan><tspan x="297.3" textLength="76.4" lengthAdjust="spacingAndGlyphs">CADREB </tspan><tspan x="373.6" textLength="40.1" lengthAdjust="spacingAndGlyphs">Real </tspan><tspan x="413.8" textLength="53.5" lengthAdjust="spacingAndGlyphs">Estate </tspan><tspan x="467.2" textLength="50.6" lengthAdjust="spacingAndGlyphs">Board </tspan><tspan x="517.9" textLength="33.4" lengthAdjust="spacingAndGlyphs">and </tspan><tspan x="551.3" textLength="37.2" lengthAdjust="spacingAndGlyphs">they </tspan><tspan x="588.5" textLength="64.9" lengthAdjust="spacingAndGlyphs">assume </tspan><tspan x="653.5" textLength="23.9" lengthAdjust="spacingAndGlyphs">no </tspan><tspan x="677.4" textLength="104.1" lengthAdjust="spacingAndGlyphs">responsibility </tspan><tspan x="781.4" textLength="24.8" lengthAdjust="spacingAndGlyphs">for </tspan><tspan x="806.3" textLength="22.0" lengthAdjust="spacingAndGlyphs">its </tspan><tspan x="828.2" textLength="77.0" lengthAdjust="spacingAndGlyphs">accuracy. </tspan><tspan x="905.2" textLength="29.6" lengthAdjust="spacingAndGlyphs">By: </tspan><tspan x="934.8" textLength="85.6" lengthAdjust="spacingAndGlyphs">Vancouver </tspan><tspan x="1020.5" textLength="57.3" lengthAdjust="spacingAndGlyphs">Market </tspan><tspan x="1077.7" textLength="60.2" lengthAdjust="spacingAndGlyphs">Reports</tspan></text>
</svg>
</body></html>
